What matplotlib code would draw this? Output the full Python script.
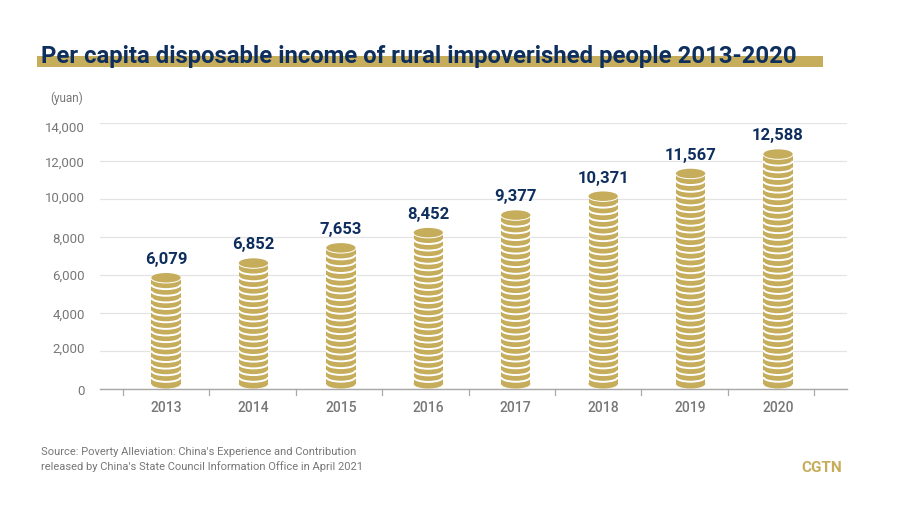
import matplotlib
matplotlib.use("Agg")
import matplotlib.pyplot as plt
from matplotlib.patches import Ellipse, Rectangle, Arc
from matplotlib.transforms import ScaledTranslation

years = ["2013", "2014", "2015", "2016", "2017", "2018", "2019", "2020"]
income = [6079, 6852, 7653, 8452, 9377, 10371, 11567, 12588]
y_ticks = [0, 2000, 4000, 6000, 8000, 10000, 12000, 14000]
label_nudge = [-1, 4, 0, 1, 0, 3, 0, -3]  # the y labels sit a little off their gridlines, in px

GOLD = "#c6ad5c"
NAVY = "#0e2f5e"
GREY = "#777777"
COIN_W = 0.335     # in category units
COIN_H = 500       # ellipse height in yuan units
COIN_STEP = 352    # one coin every so many yuan

plt.rcParams["font.family"] = ["Roboto", "DejaVu Sans"]

fig = plt.figure(figsize=(9, 5.06), dpi=100)
ax = fig.add_axes([100 / 900, 1 - 389.5 / 506, 747 / 900, 266 / 506])
ax.set_xlim(-0.755, 7.034 + 0.755)
ax.set_ylim(0, 14000)

# gridlines and axis
ax.set_yticks(y_ticks)
ax.set_yticklabels([f"{v:,}" for v in y_ticks], color=GREY, fontsize=9.5)
ax.yaxis.grid(True, color="#e4e4e4", lw=0.9)
ax.set_axisbelow(True)
ax.tick_params(axis="y", length=0, pad=11)
for lab, dy in zip(ax.get_yticklabels(), label_nudge):
    lab.set_transform(lab.get_transform() + ScaledTranslation(0, dy / 100, fig.dpi_scale_trans))
ax.set_xticks(range(len(years)))
ax.set_xticklabels(years, color=GREY, fontsize=10, fontweight="medium")
ax.tick_params(axis="x", length=0, pad=8)
for side in ["top", "left", "right"]:
    ax.spines[side].set_visible(False)
ax.spines["bottom"].set_color("#a8a8a8")
ax.spines["bottom"].set_linewidth(1)

# separators are spaced a bit tighter than the columns
sep_start = -0.492
sep_step = 0.988
for i in range(len(years) + 1):
    x = sep_start + i * sep_step
    ax.plot([x, x], [0, -350], color="#a8a8a8", lw=0.9, clip_on=False)

# coin stacks: solid column, white rim on each coin, flat ellipse on top
for i, val in enumerate(income):
    top = val - COIN_H / 2
    ax.add_patch(Rectangle((i - COIN_W / 2, COIN_H / 2), COIN_W, top - COIN_H / 2,
                           fc=GOLD, ec="none", zorder=3))
    ax.add_patch(Ellipse((i, COIN_H / 2), COIN_W, COIN_H, fc=GOLD, ec="none", zorder=3))
    n = round((top - COIN_H / 2) / COIN_STEP)
    step = (top - COIN_H / 2) / n
    for k in range(1, n + 1):
        ax.add_patch(Arc((i, COIN_H / 2 + k * step), COIN_W, COIN_H, theta1=180, theta2=360,
                         color="white", lw=1.4, zorder=4))
    ax.add_patch(Ellipse((i, top), COIN_W, COIN_H, fc=GOLD, ec="none", zorder=5))
    ax.annotate(f"{val:,}", (i, val), xytext=(0, 5), textcoords="offset points",
                ha="center", va="bottom", color=NAVY, fontsize=12, fontweight="bold")

# title with the gold marker stripe behind it
fig.add_artist(Rectangle((37 / 900, 1 - 68 / 506), 786 / 900, 11 / 506,
                         transform=fig.transFigure, fc=GOLD, ec="none"))
fig.text(41 / 900, 1 - 56.5 / 506, "Per capita disposable income of rural impoverished people 2013-2020",
         color=NAVY, fontsize=17.2, fontweight="bold", va="center", ha="left")

fig.text(50 / 900, 1 - 98 / 506, "(yuan)", color=GREY, fontsize=8.5, va="center")
fig.text(41 / 900, 1 - 452 / 506, "Source: Poverty Alleviation: China's Experience and Contribution",
         color=GREY, fontsize=8, va="center")
fig.text(41 / 900, 1 - 467 / 506, "released by China's State Council Information Office in April 2021",
         color=GREY, fontsize=8, va="center")
fig.text(801 / 900, 1 - 468 / 506, "CGTN", color=GOLD, fontsize=11, fontweight="bold", va="center")

fig.savefig("out.png", dpi=100)
